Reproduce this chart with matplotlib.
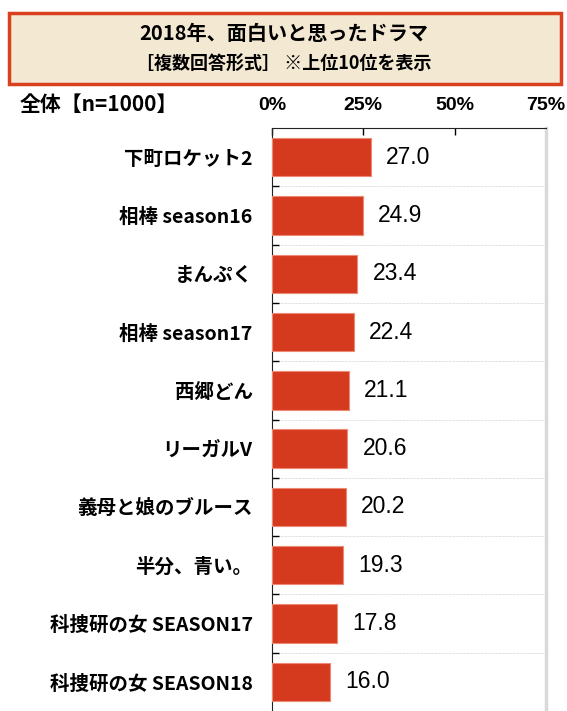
import matplotlib.pyplot as plt
from matplotlib.patches import Rectangle

plt.rcParams['font.family'] = ['Noto Sans CJK JP', 'DejaVu Sans']

categories = [
    "下町ロケット2",
    "相棒 season16",
    "まんぷく",
    "相棒 season17",
    "西郷どん",
    "リーガルV",
    "義母と娘のブルース",
    "半分、青い。",
    "科捜研の女 SEASON17",
    "科捜研の女 SEASON18",
]
values = [27.0, 24.9, 23.4, 22.4, 21.1, 20.6, 20.2, 19.3, 17.8, 16.0]
xticks = [0, 25, 50, 75]
xtick_labels = ["0%", "25%", "50%", "75%"]

BAR_COLOR = "#d5391e"
BAR_EDGE = "#ec8a75"
BOX_FACE = "#f3e8d2"
BOX_EDGE = "#d9411e"

W, H = 567, 711
fig = plt.figure(figsize=(W / 100, H / 100), dpi=100)
fig.patch.set_facecolor("white")

# title box
fig.patches.append(Rectangle((9 / W, 1 - 84 / H), 552 / W, 71 / H, transform=fig.transFigure,
                             facecolor=BOX_FACE, edgecolor=BOX_EDGE, linewidth=2.5))
fig.text(0.5, 1 - 34 / H, "2018年、面白いと思ったドラマ", ha="center", va="center",
         fontsize=14.5, fontweight="bold")
fig.text(0.5, 1 - 63 / H, "［複数回答形式］ ※上位10位を表示", ha="center", va="center",
         fontsize=13, fontweight="bold")
fig.text(20 / W, 1 - 104 / H, "全体【n=1000】", ha="left", va="center",
         fontsize=15, fontweight="bold")

left, right, top = 272 / W, 546 / W, 1 - 128 / H
ax = fig.add_axes([left, 0, right - left, top])

y = list(range(len(categories)))
ax.barh(y, values, height=0.66, color=BAR_COLOR, edgecolor=BAR_EDGE, linewidth=0.8, zorder=3)
for yi, v in zip(y, values):
    ax.annotate(f"{v:.1f}", (v, yi), textcoords="offset points", xytext=(11, 0),
                ha="left", va="center", fontsize=16.5, family=["Liberation Sans", "DejaVu Sans"])

ax.set_xlim(0, 75)
ax.set_ylim(len(categories) - 0.5, -0.5)

ax.xaxis.tick_top()
ax.set_xticks(xticks)
ax.set_xticklabels(xtick_labels, fontsize=14, fontweight="bold",
                   family=["Liberation Sans", "DejaVu Sans"])
ax.tick_params(axis="x", direction="in", length=5, width=1, pad=10, colors="black")

boundaries = [i + 0.5 for i in range(len(categories) - 1)]
ax.set_yticks(boundaries)
ax.set_yticklabels([])
ax.set_yticks(y, minor=True)
ax.set_yticklabels(categories, minor=True, fontsize=14, fontweight="bold")
ax.tick_params(axis="y", which="major", direction="in", length=5, width=1)
ax.tick_params(axis="y", which="minor", length=0, pad=14)
ax.grid(axis="y", which="major", color="#c0c0c0", linestyle=(0, (1, 1)), linewidth=0.5)

ax.spines["left"].set_color("#222222")
ax.spines["top"].set_color("#222222")
ax.spines["right"].set_color("#d9d9d9")
ax.spines["right"].set_linewidth(2.5)
ax.spines["bottom"].set_visible(False)

plt.savefig("out.png", dpi=100)
plt.close()
